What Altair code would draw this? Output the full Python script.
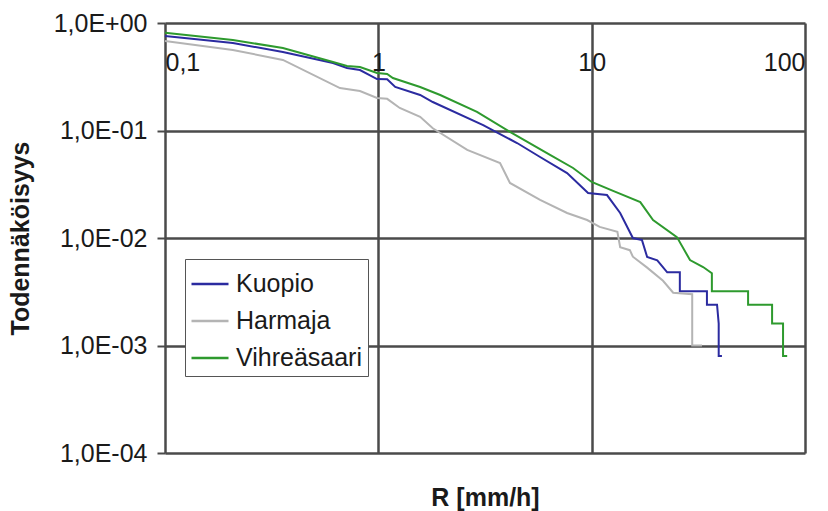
import altair as alt
import pandas as pd

# Exceedance probability of rain rate R [mm/h] at three stations
series_names = ["Kuopio", "Harmaja", "Vihreäsaari"]
series_colors = ["#2b2ba0", "#b4b4b4", "#2e9a2e"]

kuopio_r = [0.1, 0.208, 0.357, 0.613, 0.713, 0.82, 0.986, 1.10, 1.20, 1.57, 1.80,
            3.10, 4.47, 5.73, 7.67, 9.62, 11.8, 13.6, 15.6, 17.2, 18.2, 20.3, 22.6,
            25.9, 25.9, 34.7, 34.7, 38.7, 39.4, 39.4, 40.8]
kuopio_p = [0.757, 0.652, 0.537, 0.425, 0.381, 0.365, 0.301, 0.30, 0.254, 0.214, 0.184,
            0.112, 0.0765, 0.0567, 0.0402, 0.0262, 0.0251, 0.0171, 0.0100, 0.0096, 0.00666,
            0.0062, 0.0048, 0.0048, 0.0032, 0.0032, 0.0024, 0.0024, 0.0016, 0.0008, 0.0008]

harmaja_r = [0.1, 0.208, 0.357, 0.661, 0.82, 0.986, 1.10, 1.26, 1.57, 1.80, 2.61, 3.72,
             4.14, 5.73, 7.67, 9.52, 10.9, 13.2, 13.6, 15.1, 15.6, 18.2, 21.6, 24.1,
             29.6, 29.6, 32.9]
harmaja_p = [0.68, 0.561, 0.453, 0.248, 0.233, 0.201, 0.197, 0.162, 0.134, 0.105, 0.0659,
             0.0499, 0.0325, 0.0226, 0.0171, 0.0147, 0.0127, 0.0114, 0.0082, 0.0077, 0.0067,
             0.0053, 0.0040, 0.0031, 0.0030, 0.0010, 0.0010]

vihreasaari_r = [0.1, 0.208, 0.357, 0.613, 0.713, 0.82, 0.986, 1.10, 1.17, 1.57, 1.95,
                 2.90, 4.14, 6.38, 8.18, 10.0, 12.6, 16.9, 19.4, 25.1, 28.9, 33.3, 36.6,
                 36.6, 54.1, 54.1, 70.1, 70.1, 78.9, 78.9, 82.5]
vihreasaari_p = [0.81, 0.695, 0.585, 0.434, 0.398, 0.390, 0.343, 0.336, 0.308, 0.254, 0.214,
                 0.149, 0.0969, 0.0592, 0.0448, 0.0332, 0.0274, 0.0216, 0.0147, 0.0102, 0.00624,
                 0.00537, 0.0047, 0.0032, 0.0032, 0.0024, 0.0024, 0.0016, 0.0016, 0.0008, 0.0008]

x_tick_values = [0.1, 1, 10, 100]
x_tick_labels = ["0,1", "1", "10", "100"]
y_tick_values = [1, 0.1, 0.01, 0.001, 0.0001]
y_tick_labels = ["1,0E+00", "1,0E-01", "1,0E-02", "1,0E-03", "1,0E-04"]

rows = []
for name, rs, ps in zip(series_names,
                        [kuopio_r, harmaja_r, vihreasaari_r],
                        [kuopio_p, harmaja_p, vihreasaari_p]):
    for i, (r, p) in enumerate(zip(rs, ps)):
        rows.append({"station": name, "R": r, "P": p, "idx": i})
df = pd.DataFrame(rows)


def label_expr(values, labels):
    # nested conditional picking the label of the nearest tick value
    expr = "''"
    for v, lab in reversed(list(zip(values, labels))):
        expr = f"abs(log(datum.value) - log({v})) < 0.1 ? '{lab}' : " + expr
    return expr


FONT = "Liberation Sans"
FS = 25
W, H = 640, 430

chart = (
    alt.Chart(df)
    .mark_line(strokeWidth=2, interpolate="linear")
    .encode(
        x=alt.X(
            "R:Q",
            scale=alt.Scale(type="log", domain=[0.1, 100], nice=False),
            axis=alt.Axis(
                orient="bottom",
                offset=-H,
                values=x_tick_values,
                labelExpr=label_expr(x_tick_values, x_tick_labels),
                ticks=False,
                domain=False,
                labelPadding=27,
                labelBaseline="top",
                labelFontSize=FS,
                labelFont=FONT,
                labelColor="#1a1a1a",
                grid=True,
                gridColor="#4a4a4a",
                gridWidth=2.5,
                title="R [mm/h]",
                titleFont=FONT,
                titleFontSize=FS,
                titleFontWeight="bold",
                titleColor="#1a1a1a",
                titleBaseline="middle",
                titleY=H + 44,
                titleX=W / 2,
            ),
        ),
        y=alt.Y(
            "P:Q",
            scale=alt.Scale(type="log", domain=[0.0001, 1], nice=False),
            axis=alt.Axis(
                values=y_tick_values,
                labelExpr=label_expr(y_tick_values, y_tick_labels),
                domain=False,
                tickSize=8,
                tickColor="#4a4a4a",
                tickWidth=2,
                labelPadding=10,
                labelFontSize=FS,
                labelFont=FONT,
                labelColor="#1a1a1a",
                grid=True,
                gridColor="#4a4a4a",
                gridWidth=2.5,
                title="Todennäköisyys",
                titleFont=FONT,
                titleFontSize=FS,
                titleFontWeight="bold",
                titleColor="#1a1a1a",
                titlePadding=20,
            ),
        ),
        color=alt.Color(
            "station:N",
            scale=alt.Scale(domain=series_names, range=series_colors),
            legend=alt.Legend(
                title=None,
                orient="none",
                legendX=20,
                legendY=236,
                symbolType="stroke",
                symbolSize=1369,
                symbolStrokeWidth=2.5,
                labelFont=FONT,
                labelFontSize=FS,
                labelColor="#1a1a1a",
                labelOffset=6,
                rowPadding=4,
                padding=5,
                strokeColor="#555555",
                fillColor="white",
            ),
        ),
        order="idx:Q",
    )
    .properties(
        width=W,
        height=H,
        autosize=alt.AutoSizeParams(type="none"),
        padding={"left": 165, "top": 23, "right": 23, "bottom": 58},
    )
    .configure_view(stroke="#8a8a8a", strokeWidth=2.5)
    .configure(background="white")
)

chart.save("out.html", embed_options={"renderer": "svg", "actions": False})
